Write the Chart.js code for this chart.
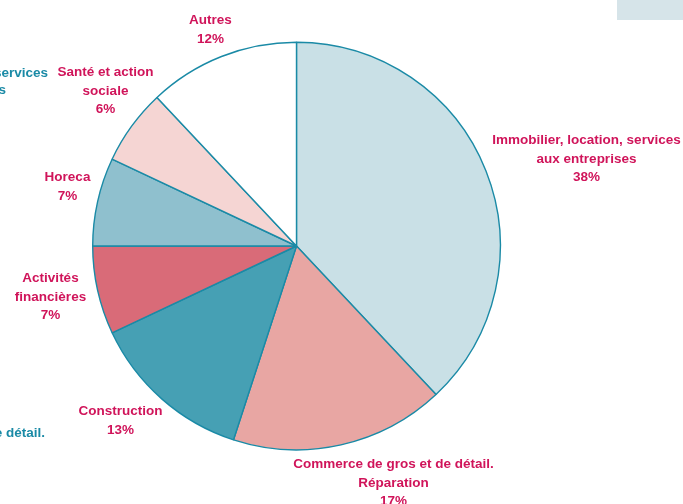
<!DOCTYPE html>
<html>
<head>
<meta charset="utf-8">
<script src="https://cdn.jsdelivr.net/npm/chart.js@4/dist/chart.umd.min.js"></script>
<style>
  html, body { margin: 0; padding: 0; background: #ffffff; }
  #wrap { width: 683px; height: 504px; position: relative; }
</style>
</head>
<body>
<div id="wrap"><canvas id="pie" width="683" height="504"></canvas></div>
<script>
// Répartition par secteur
const categories = [
  ['Immobilier, location, services', 'aux entreprises'],
  ['Commerce de gros et de détail.', 'Réparation'],
  ['Construction'],
  ['Activités', 'financières'],
  ['Horeca'],
  ['Santé et action', 'sociale'],
  ['Autres']
];
const shares = [38, 17, 13, 7, 7, 6, 12];
const sliceColors = ['#c9e0e6', '#e8a6a3', '#46a0b4', '#d96b78', '#8fc0ce', '#f5d5d3', '#ffffff'];

const LABEL_FONT = 'bold 13.5px "Liberation Sans Narrow", "Liberation Sans", Arial, sans-serif';
const LABEL_COLOR = '#d0145a';
const TEAL = '#1a8aa6';

// label block centres, relative to the pie centre (px)
const labelOffsets = [
  [290, -87], [97, 237], [-176, 175], [-246, 51], [-229, -59], [-191, -155], [-86, -216]
];

const sliceLabels = {
  id: 'sliceLabels',
  afterDraw(chart) {
    const ctx = chart.ctx;
    const meta = chart.getDatasetMeta(0);
    ctx.save();
    ctx.font = LABEL_FONT;
    ctx.fillStyle = LABEL_COLOR;
    ctx.textAlign = 'center';
    ctx.textBaseline = 'middle';
    const lh = 18.5;
    meta.data.forEach((arc, i) => {
      const lines = categories[i].concat([shares[i] + '%']);
      const cx = arc.x + labelOffsets[i][0];
      const cy = arc.y + labelOffsets[i][1];
      const top = cy - (lines.length - 1) * lh / 2;
      lines.forEach((t, k) => ctx.fillText(t, cx, top + k * lh));
    });
    // neighbouring panel fragments
    ctx.fillStyle = TEAL;
    ctx.textAlign = 'right';
    ctx.fillText('services', 48, 73);
    ctx.fillText('s', 6, 90);
    ctx.fillText('e détail.', 45, 433);
    ctx.fillStyle = '#d6e4e9';
    ctx.fillRect(617, 0, 66, 20);
    ctx.restore();
  }
};

new Chart(document.getElementById('pie'), {
  type: 'pie',
  data: {
    labels: categories.map(c => c.join(' ')),
    datasets: [{
      data: shares,
      backgroundColor: sliceColors,
      borderColor: TEAL,
      borderWidth: 1.4
    }]
  },
  options: {
    responsive: false,
    animation: false,
    layout: { padding: { top: 41, bottom: 53, left: 92, right: 182 } },
    plugins: { legend: { display: false }, tooltip: { enabled: false } }
  },
  plugins: [sliceLabels]
});
</script>
</body>
</html>
